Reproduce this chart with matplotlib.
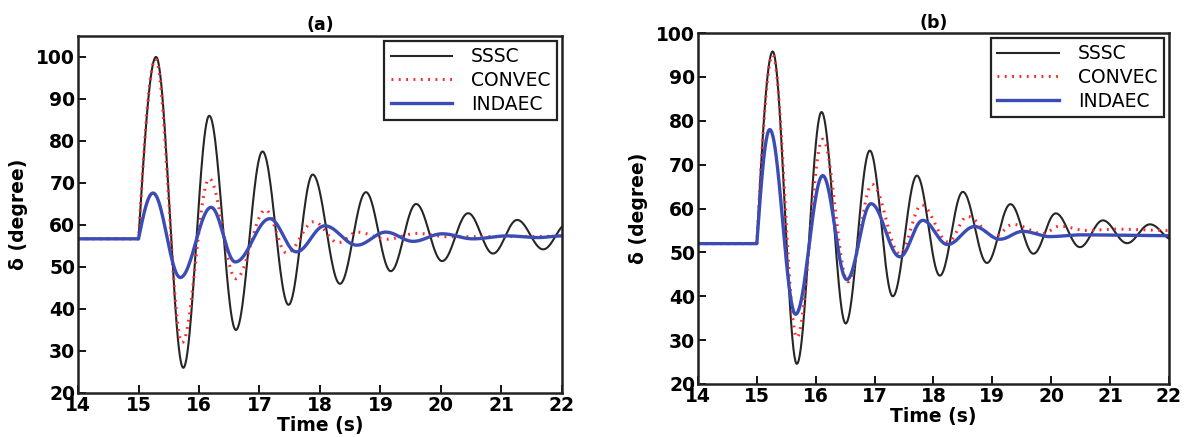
import numpy as np
import matplotlib.pyplot as plt

plt.rcParams['font.family'] = 'DejaVu Sans'

# extrema (time in s, rotor angle in degree)
a_sssc_t = [14, 15.0, 15.29, 15.74, 16.17, 16.61, 17.05, 17.48, 17.88, 18.33, 18.76, 19.17,
            19.59, 20.02, 20.45, 20.86, 21.26, 21.69, 22.1]
a_sssc_v = [56.7, 56.7, 100, 26, 86, 35, 77.5, 41, 72, 46, 67.8, 49,
            65, 51.4, 62.8, 53.2, 61.2, 54.2, 60.5]
a_conv_t = [14, 15.0, 15.28, 15.72, 16.17, 16.61, 17.1, 17.45, 17.9, 18.3, 18.62, 19.1,
            19.6, 20.1, 22.0]
a_conv_v = [56.7, 56.7, 99.5, 32, 71, 47.2, 63.6, 53.3, 60.8, 55.8, 58.3, 56.6,
            58, 57.2, 57.3]
a_ind_t = [14, 15.0, 15.24, 15.69, 16.2, 16.6, 17.17, 17.61, 18.08, 18.61, 19.09, 19.54,
           20.02, 20.53, 21.1, 21.6, 22.0]
a_ind_v = [56.7, 56.7, 67.6, 47.5, 64.2, 51.2, 61.5, 53.6, 59.8, 55.2, 58.3, 56.1,
           57.9, 56.7, 57.4, 57.0, 57.4]

b_sssc_t = [14, 15.0, 15.27, 15.68, 16.1, 16.51, 16.92, 17.31, 17.72, 18.11, 18.5, 18.91,
            19.31, 19.7, 20.08, 20.49, 20.88, 21.29, 21.68, 22.08]
b_sssc_v = [52, 52, 95.8, 24.6, 82, 33.8, 73.2, 40, 67.5, 44.7, 63.8, 47.6,
            61, 49.7, 58.9, 51.2, 57.3, 52.1, 56.4, 52.8]
b_conv_t = [14, 15.0, 15.27, 15.68, 16.12, 16.55, 16.96, 17.43, 17.8, 18.25, 18.58, 19.04,
            19.35, 19.86, 20.15, 20.6, 21.1, 22.0]
b_conv_v = [52, 52, 95, 30.6, 75.8, 43.3, 65.5, 49.7, 60.8, 52.4, 58.2, 53.6,
            56.4, 54.3, 56.0, 55.0, 55.3, 55.0]
b_ind_t = [14, 15.0, 15.22, 15.66, 16.12, 16.53, 16.94, 17.43, 17.82, 18.24, 18.7, 19.13,
           19.52, 19.98, 20.5, 22.0]
b_ind_v = [52, 52, 78, 35.9, 67.5, 43.8, 61.1, 49, 57.3, 51.8, 55.9, 53,
           54.8, 53.6, 54.0, 53.8]

labels = ['SSSC', 'CONVEC', 'INDAEC']


def curve(ts, vs):
    # smooth swing between read extrema; the step at t=15 starts steep
    xs, ys = [], []
    for i in range(len(ts) - 1):
        s = np.linspace(0, 1, 50)
        if i == 1:
            w = np.sin(np.pi / 2 * s)
        else:
            w = (1 - np.cos(np.pi * s)) / 2
        xs.append(ts[i] + (ts[i + 1] - ts[i]) * s)
        ys.append(vs[i] + (vs[i + 1] - vs[i]) * w)
    return np.concatenate(xs), np.concatenate(ys)


def panel(ax, data, title, ylim, yticks):
    styles = [dict(color='#262626', lw=1.5),
              dict(color='#ff2a2a', lw=2.2, ls=(0, (0.6, 1.8))),
              dict(color='#3b4cb4', lw=2.4)]
    for (t, v), lab, st in zip(data, labels, styles):
        x, y = curve(t, v)
        ax.plot(x, y, label=lab, **st)
    ax.set_xlim(14, 22)
    ax.set_ylim(*ylim)
    ax.set_xticks(range(14, 23))
    ax.set_yticks(yticks)
    ax.tick_params(direction='in', length=6, width=1.3, labelsize=13.5, pad=2)
    for lb in ax.get_xticklabels() + ax.get_yticklabels():
        lb.set_fontweight('bold')
    for sp in ax.spines.values():
        sp.set_linewidth(1.8)
        sp.set_color('#222222')
    ax.set_title(title, fontsize=12.5, fontweight='bold', pad=4)
    ax.set_xlabel('Time (s)', fontsize=13.5, fontweight='bold', labelpad=1)
    ax.set_ylabel('δ (degree)', fontsize=13.5, fontweight='bold', labelpad=6)
    leg = ax.legend(loc='upper right', fontsize=13.5, frameon=True, fancybox=False,
                    edgecolor='#222222', framealpha=1, handlelength=3.3,
                    labelspacing=0.25, borderaxespad=0.25, handletextpad=1.0,
                    borderpad=0.35)
    leg.get_frame().set_linewidth(1.6)


fig = plt.figure(figsize=(11.86, 4.37), dpi=100)
ax1 = fig.add_axes([0.0658, 0.1007, 0.408, 0.817])
ax2 = fig.add_axes([0.5885, 0.1213, 0.397, 0.803])

panel(ax1, [(a_sssc_t, a_sssc_v), (a_conv_t, a_conv_v), (a_ind_t, a_ind_v)],
      '(a)', (20, 105), range(20, 101, 10))
panel(ax2, [(b_sssc_t, b_sssc_v), (b_conv_t, b_conv_v), (b_ind_t, b_ind_v)],
      '(b)', (20, 100), range(20, 101, 10))

fig.savefig('out.png', dpi=100)
